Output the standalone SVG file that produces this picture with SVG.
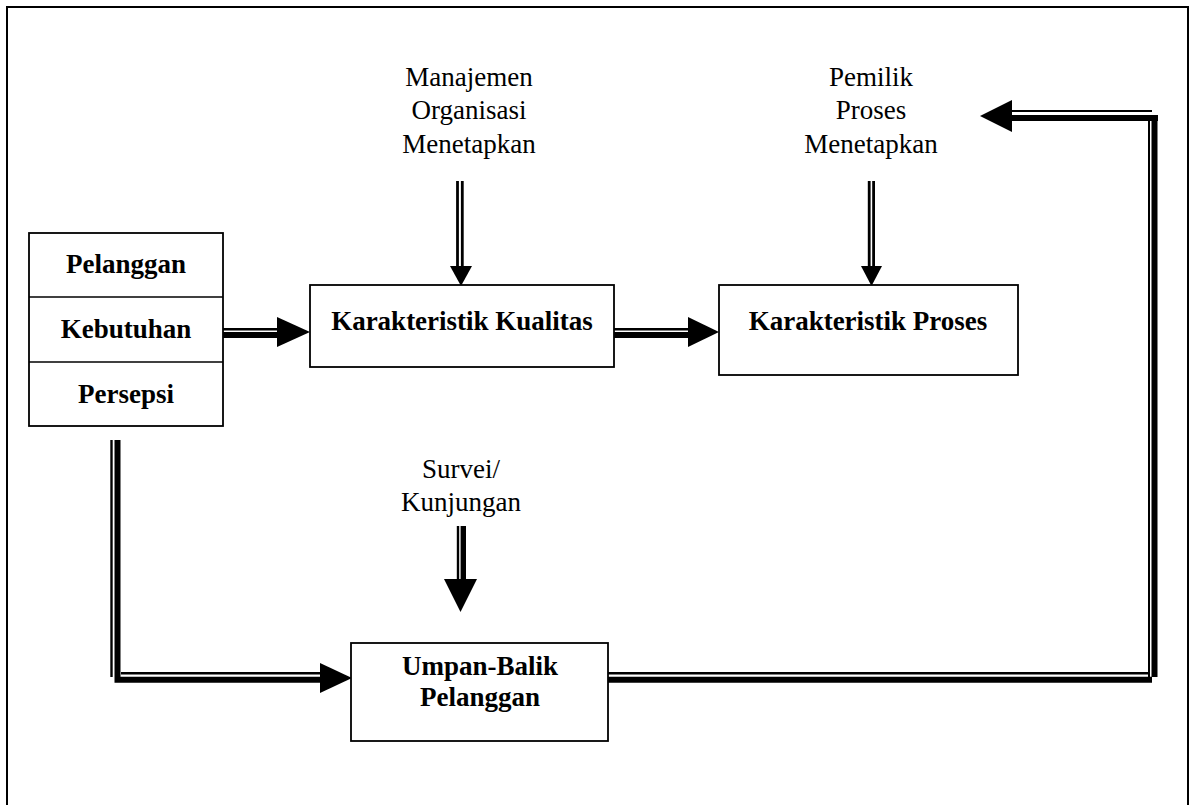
<svg xmlns="http://www.w3.org/2000/svg" width="1190" height="805" viewBox="0 0 1190 805">
  <style>
    .frame { fill: none; stroke: #000; stroke-width: 2; }
    .box { fill: #fff; stroke: #000; stroke-width: 1.8; }
    .div { stroke: #000; stroke-width: 1.6; }
    .lbl { font-family: "Liberation Serif", "Times New Roman", serif; font-size: 27px; fill: #000; text-anchor: middle; }
    .bold { font-weight: bold; font-size: 27px; }
    .thin { fill: none; stroke: #000; stroke-width: 2.4; }
    .thick { fill: none; stroke: #000; stroke-width: 6; }
    .head { fill: #000; }
  </style>

  <!-- page frame -->
  <path class="frame" d="M7,812 V7 H1188 V812"/>

  <!-- connectors -->
  <g id="connectors">
    <!-- Pelanggan/Kebutuhan -> Karakteristik Kualitas -->
    <line class="thin" x1="223" y1="329.3" x2="280" y2="329.3"/>
    <line class="thick" x1="223" y1="335" x2="280" y2="335"/>
    <polygon class="head" points="277,317 310,332 277,347"/>

    <!-- Karakteristik Kualitas -> Karakteristik Proses -->
    <line class="thin" x1="614" y1="329.3" x2="690" y2="329.3"/>
    <line class="thick" x1="614" y1="335" x2="690" y2="335"/>
    <polygon class="head" points="688,317 719,332 688,347"/>

    <!-- Manajemen Organisasi Menetapkan -> Karakteristik Kualitas -->
    <line class="thin" x1="457.5" y1="181" x2="457.5" y2="268" style="stroke-width:2.8"/>
    <line class="thin" x1="462.3" y1="181" x2="462.3" y2="268" style="stroke-width:2.8"/>
    <polygon class="head" points="450,266 472,266 461,286"/>

    <!-- Pemilik Proses Menetapkan -> Karakteristik Proses -->
    <line class="thin" x1="869.2" y1="181" x2="869.2" y2="268" style="stroke-width:2.8"/>
    <line class="thin" x1="873.6" y1="181" x2="873.6" y2="268" style="stroke-width:2.8"/>
    <polygon class="head" points="861,266 882,266 871.5,286"/>

    <!-- Survei/Kunjungan -> Umpan-Balik Pelanggan -->
    <line class="thin" x1="458" y1="526" x2="458" y2="581"/>
    <line class="thick" x1="463.3" y1="526" x2="463.3" y2="581" style="stroke-width:5.4"/>
    <polygon class="head" points="444,579 477,579 460.5,612"/>

    <!-- Persepsi -> Umpan-Balik Pelanggan -->
    <polyline class="thin" points="111.5,440 111.5,677"/>
    <polyline class="thin" points="121,673.3 322,673.3"/>
    <polyline class="thick" points="117.5,440 117.5,679.7 322,679.7"/>
    <polygon class="head" points="320,663 352,678 320,693"/>

    <!-- Umpan-Balik Pelanggan -> Pemilik Proses Menetapkan -->
    <line class="thin" x1="608" y1="673.3" x2="1150" y2="673.3"/>
    <line class="thick" x1="608" y1="679.7" x2="1152" y2="679.7"/>
    <line class="thin" x1="1149" y1="117" x2="1149" y2="677" style="stroke-width:2"/>
    <line class="thick" x1="1154.5" y1="115" x2="1154.5" y2="677"/>
    <line class="thin" x1="1010" y1="111" x2="1152" y2="111" style="stroke-width:2"/>
    <line class="thick" x1="1010" y1="118" x2="1158" y2="118"/>
    <polygon class="head" points="1012,100 980,116 1012,132"/>
  </g>

  <!-- customer stack -->
  <g id="pelanggan">
    <rect class="box" x="29" y="233" width="194" height="193"/>
    <line class="div" x1="29" y1="297" x2="223" y2="297"/>
    <line class="div" x1="29" y1="362" x2="223" y2="362"/>
    <text class="lbl bold" x="126" y="273">Pelanggan</text>
    <text class="lbl bold" x="126" y="338">Kebutuhan</text>
    <text class="lbl bold" x="126" y="403">Persepsi</text>
  </g>

  <g id="karakteristik-kualitas">
    <rect class="box" x="310" y="285" width="304" height="82"/>
    <text class="lbl bold" x="462" y="330">Karakteristik Kualitas</text>
  </g>

  <g id="karakteristik-proses">
    <rect class="box" x="719" y="285" width="299" height="90"/>
    <text class="lbl bold" x="868" y="330">Karakteristik Proses</text>
  </g>

  <g id="umpan-balik">
    <rect class="box" x="351" y="643" width="257" height="98"/>
    <text class="lbl bold" x="480" y="675">Umpan-Balik</text>
    <text class="lbl bold" x="480" y="706">Pelanggan</text>
  </g>

  <g id="manajemen">
    <text class="lbl" x="469" y="86">Manajemen</text>
    <text class="lbl" x="469" y="119">Organisasi</text>
    <text class="lbl" x="469" y="153">Menetapkan</text>
  </g>

  <g id="pemilik-proses">
    <text class="lbl" x="871" y="86">Pemilik</text>
    <text class="lbl" x="871" y="119">Proses</text>
    <text class="lbl" x="871" y="153">Menetapkan</text>
  </g>

  <g id="survei">
    <text class="lbl" x="461" y="478">Survei/</text>
    <text class="lbl" x="461" y="511">Kunjungan</text>
  </g>
</svg>
